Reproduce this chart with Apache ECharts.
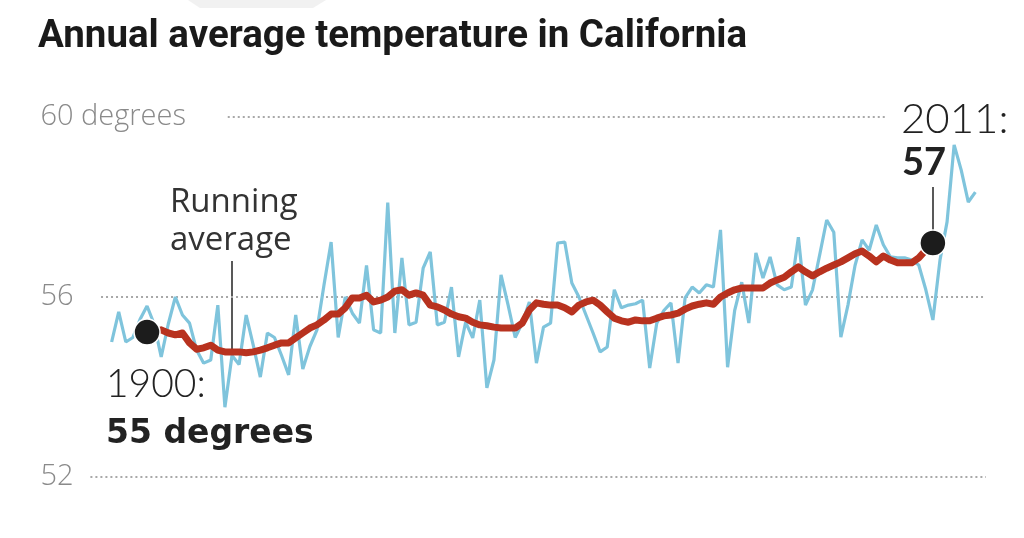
<!DOCTYPE html>
<html>
<head>
<meta charset="utf-8">
<script src="https://cdn.jsdelivr.net/npm/echarts@6.0.0/dist/echarts.min.js"></script>
<style>
html,body{margin:0;padding:0;background:#fff;}
#chart{width:1024px;height:538px;}
</style>
</head>
<body>
<div id="chart"></div>
<script>
// Years of annual observations (1895-2017)
const years = [
1895,1896,1897,1898,1899,
1900,1901,1902,1903,1904,1905,1906,1907,1908,1909,
1910,1911,1912,1913,1914,1915,1916,1917,1918,1919,
1920,1921,1922,1923,1924,1925,1926,1927,1928,1929,
1930,1931,1932,1933,1934,1935,1936,1937,1938,1939,
1940,1941,1942,1943,1944,1945,1946,1947,1948,1949,
1950,1951,1952,1953,1954,1955,1956,1957,1958,1959,
1960,1961,1962,1963,1964,1965,1966,1967,1968,1969,
1970,1971,1972,1973,1974,1975,1976,1977,1978,1979,
1980,1981,1982,1983,1984,1985,1986,1987,1988,1989,
1990,1991,1992,1993,1994,1995,1996,1997,1998,1999,
2000,2001,2002,2003,2004,2005,2006,2007,2008,2009,
2010,2011,2012,2013,2014,2015,2016,2017
];
// Annual average temperature (deg F)
const annualTemp = [
55.0,55.67,55.0,55.1,55.5,
55.8,55.4,54.67,55.4,56.0,55.6,55.42,54.82,54.53,54.6,
55.82,53.55,54.7,54.5,55.6,54.93,54.22,55.2,55.1,54.7,
54.27,55.6,54.4,54.9,55.27,56.27,57.22,55.1,56.0,55.64,
55.42,56.7,55.27,55.2,58.1,55.2,56.87,55.38,55.44,56.64,
57.0,55.38,55.44,56.22,54.67,55.44,55.09,55.93,53.98,54.6,
56.49,55.82,55.1,55.42,55.89,54.53,55.33,55.42,57.2,57.22,
56.31,56.0,55.6,55.2,54.78,54.89,56.16,55.76,55.82,55.85,
55.93,54.42,55.42,55.7,55.87,54.53,55.98,56.22,56.09,56.27,
56.22,57.49,54.44,55.7,56.33,55.42,56.98,56.42,56.89,56.27,
56.16,56.22,57.33,55.82,56.16,56.93,57.71,57.44,55.11,55.82,
56.7,57.27,57.04,57.6,57.16,56.89,56.87,56.87,56.82,56.71,
56.16,55.49,56.82,57.67,59.38,58.82,58.11,58.33
];
// Years of the running average (1900-2011)
const avgYears = [
1900,1901,1902,1903,1904,1905,1906,1907,1908,1909,
1910,1911,1912,1913,1914,1915,1916,1917,1918,1919,
1920,1921,1922,1923,1924,1925,1926,1927,1928,1929,
1930,1931,1932,1933,1934,1935,1936,1937,1938,1939,
1940,1941,1942,1943,1944,1945,1946,1947,1948,1949,
1950,1951,1952,1953,1954,1955,1956,1957,1958,1959,
1960,1961,1962,1963,1964,1965,1966,1967,1968,1969,
1970,1971,1972,1973,1974,1975,1976,1977,1978,1979,
1980,1981,1982,1983,1984,1985,1986,1987,1988,1989,
1990,1991,1992,1993,1994,1995,1996,1997,1998,1999,
2000,2001,2002,2003,2004,2005,2006,2007,2008,2009,
2010,2011
];
// Running average (deg F)
const runningAvg = [
55.22,55.24,55.27,55.2,55.16,55.2,54.98,54.84,54.87,54.93,
54.82,54.78,54.78,54.78,54.76,54.78,54.82,54.87,54.93,54.98,
54.98,55.09,55.2,55.31,55.38,55.49,55.62,55.62,55.76,55.98,
55.98,56.04,55.89,55.93,56.0,56.13,56.16,56.04,56.09,56.04,
55.82,55.78,55.71,55.62,55.56,55.53,55.44,55.38,55.36,55.33,
55.31,55.31,55.31,55.42,55.71,55.87,55.84,55.82,55.82,55.76,
55.67,55.82,55.89,55.93,55.82,55.67,55.53,55.47,55.44,55.49,
55.47,55.47,55.53,55.58,55.6,55.64,55.73,55.8,55.84,55.87,
55.84,56.0,56.09,56.16,56.2,56.2,56.2,56.2,56.31,56.38,
56.44,56.56,56.67,56.56,56.47,56.56,56.64,56.71,56.78,56.87,
56.96,57.02,56.91,56.78,56.91,56.82,56.76,56.76,56.76,56.87,
57.04,57.2
];
// Y-axis ticks
const yTicks = [52, 56, 60];
const yTickLabels = ['52', '56', '60 degrees'];

const chart = echarts.init(document.getElementById('chart'), null, {renderer: 'canvas'});

const annualData = years.map((y, i) => [y, annualTemp[i]]);
const avgData = avgYears.map((y, i) => [y, runningAvg[i]]);
const endpoints = [avgData[0], avgData[avgData.length - 1]];

const dotted = {color: '#a8a8a8', width: 2, type: [2, 3], opacity: 1};

const option = {
  backgroundColor: '#ffffff',
  animation: false,
  grid: {left: 90.4, right: 38, top: 117, bottom: 61},
  xAxis: {
    type: 'value', min: 1892, max: 2018.5,
    axisLine: {show: false}, axisTick: {show: false},
    axisLabel: {show: false}, splitLine: {show: false}
  },
  yAxis: {
    type: 'value', min: yTicks[0], max: yTicks[yTicks.length - 1], interval: 4,
    axisLine: {show: false}, axisTick: {show: false}, splitLine: {show: false},
    axisLabel: {
      align: 'left', margin: 50, padding: [5, 0, 0, 0],
      color: '#8a8a8a', fontSize: 29, fontFamily: 'Open Sans', fontWeight: 300,
      formatter: v => yTickLabels[yTicks.indexOf(v)]
    }
  },
  series: [
    {
      type: 'line', data: annualData, showSymbol: false, symbol: 'none',
      lineStyle: {color: '#7fc4dc', width: 3.2}, z: 2,
      markLine: {
        silent: true, symbol: 'none', label: {show: false},
        lineStyle: dotted,
        emphasis: {disabled: true},
        data: [
          [{coord: [1892, 52]}, {coord: [2018.5, 52]}],
          [{coord: [1893.5, 56]}, {coord: [2018.5, 56]}],
          [{coord: [1911.4, 60]}, {coord: [2004.2, 60]}]
        ],
        z: 1
      }
    },
    {
      type: 'line', data: avgData, showSymbol: false, symbol: 'none',
      lineStyle: {color: '#b8321f', width: 7, cap: 'round', join: 'round'}, z: 3
    },
    {
      type: 'scatter', data: endpoints, symbolSize: 26,
      itemStyle: {color: '#1c1c1c', opacity: 1, borderColor: '#ffffff', borderWidth: 1.5},
      emphasis: {disabled: true}, z: 5
    }
  ],
  graphic: [
    {type: 'polygon', shape: {points: [[188, 0], [326, 0], [313, 8], [200, 8]]}, style: {fill: '#f1f1f1'}},
    {type: 'text', left: 38, top: 18, style: {text: 'Annual average temperature in California', fill: '#1a1a1a', font: 'bold 38.5px Roboto'}},
    {type: 'text', left: 170, top: 186, style: {text: 'Running', fill: '#333', font: '33px "Open Sans"'}},
    {type: 'text', left: 170, top: 224, style: {text: 'average', fill: '#333', font: '33px "Open Sans"'}},
    {type: 'line', shape: {x1: 232, y1: 261, x2: 232, y2: 350}, style: {stroke: '#222', lineWidth: 1.5}},
    {type: 'text', left: 106, top: 365, style: {text: '1900:', fill: '#222', font: '300 39px Lato'}},
    {type: 'text', left: 106, top: 418, style: {text: '55 degrees', fill: '#222', font: 'bold 33px "DejaVu Sans"'}},
    {type: 'text', left: 901, top: 98, style: {text: '2011:', fill: '#222', font: '300 42px Lato'}},
    {type: 'text', left: 902, top: 144, style: {text: '57', fill: '#222', font: 'bold 38px Lato'}},
    {type: 'line', shape: {x1: 933, y1: 187, x2: 933, y2: 232}, style: {stroke: '#222', lineWidth: 1.5}}
  ]
};
chart.setOption(option);
</script>
</body>
</html>
